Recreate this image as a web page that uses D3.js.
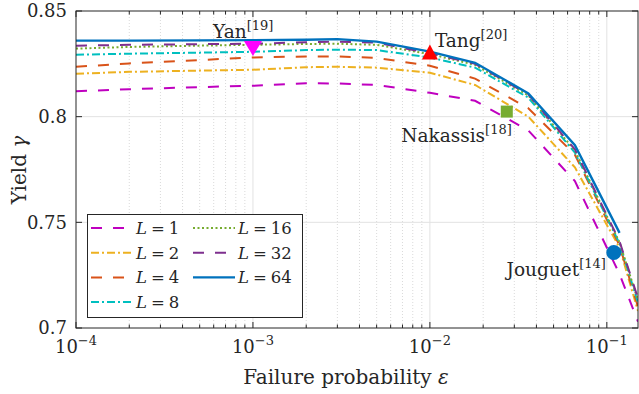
<!DOCTYPE html>
<html>
<head>
<meta charset="utf-8">
<script src="https://d3js.org/d3.v7.min.js"></script>
<style>
  body { margin: 0; background: #fff; }
  svg text { font-family: "DejaVu Serif", serif; fill: #262626; }
</style>
</head>
<body>
<div id="chart"></div>
<script>
// failure probability samples (shared by every curve)
var eps = [1e-4, 2e-4, 5e-4, 1e-3, 2e-3, 3e-3, 5e-3, 1e-2, 1.8e-2, 3.6e-2, 6.6e-2, 0.118, 0.15];

var yieldL1  = [0.8120, 0.8130, 0.8140, 0.8146, 0.8158, 0.8157, 0.8150, 0.8113, 0.8075, 0.7935, 0.7695, 0.7255, 0.7030];
var yieldL2  = [0.8203, 0.8212, 0.8218, 0.8222, 0.8234, 0.8236, 0.8232, 0.8208, 0.8150, 0.8000, 0.7760, 0.7380, 0.7080];
var yieldL4  = [0.8236, 0.8252, 0.8268, 0.8280, 0.8285, 0.8285, 0.8278, 0.8241, 0.8180, 0.8040, 0.7820, 0.7390, 0.7100];
var yieldL8  = [0.8293, 0.8298, 0.8303, 0.8307, 0.8315, 0.8317, 0.8315, 0.8280, 0.8232, 0.8090, 0.7830, 0.7400, 0.7120];
var yieldL16 = [0.8322, 0.8330, 0.8336, 0.8340, 0.8344, 0.8345, 0.8340, 0.8296, 0.8245, 0.8100, 0.7840, 0.7405, 0.7130];
var yieldL32 = [0.8336, 0.8340, 0.8343, 0.8345, 0.8352, 0.8355, 0.8350, 0.8300, 0.8250, 0.8105, 0.7845, 0.7410, 0.7140];
var yieldL64 = [0.8360, 0.8360, 0.8361, 0.8362, 0.8364, 0.8367, 0.8355, 0.8308, 0.8255, 0.8110, 0.7865, 0.7450, null];

var blockLengths = ["1", "2", "4", "8", "16", "32", "64"];

// reference results from the literature
var refNames  = ["Yan", "Tang", "Nakassis", "Jouguet"];
var refCites  = ["19", "20", "18", "14"];
var refEps    = [1e-3, 1e-2, 0.0272, 0.1095];
var refYield  = [0.8325, 0.8304, 0.8024, 0.7357];

var xTicks = [1e-4, 1e-3, 1e-2, 1e-1];
var xTickExp = ["\u22124", "\u22123", "\u22122", "\u22121"];
var yTicks = [0.7, 0.75, 0.8, 0.85];
var yTickLabels = ["0.7", "0.75", "0.8", "0.85"];

var width = 639, height = 394;
var pLeft = 76, pRight = 638, pTop = 11, pBottom = 328;

var svg = d3.select('#chart')
            .append('svg')
            .attr('width', width)
            .attr('height', height);

var x = d3.scaleLog().domain([1e-4, 0.15]).range([pLeft, pRight]);
var y = d3.scaleLinear().domain([0.7, 0.85]).range([pBottom, pTop]);

// minor x ticks (2..9 of each decade)
var minorX = [];
[1e-4, 1e-3, 1e-2, 1e-1].forEach(function(d) {
  for (var k = 2; k <= 9; k++) {
    if (d * k < 0.15) minorX.push(d * k);
  }
});

// grid
svg.append('g').selectAll('line')
  .data(minorX)
  .enter().append('line')
    .attr('x1', function(d) { return x(d); })
    .attr('x2', function(d) { return x(d); })
    .attr('y1', pTop).attr('y2', pBottom)
    .attr('stroke', '#d0d0d0')
    .attr('stroke-width', 0.8)
    .attr('stroke-dasharray', '1,2');

svg.append('g').selectAll('line')
  .data(xTicks.slice(1))
  .enter().append('line')
    .attr('x1', function(d) { return x(d); })
    .attr('x2', function(d) { return x(d); })
    .attr('y1', pTop).attr('y2', pBottom)
    .attr('stroke', '#e2e2e2')
    .attr('stroke-width', 1);

svg.append('g').selectAll('line')
  .data(yTicks.slice(1, 3))
  .enter().append('line')
    .attr('x1', pLeft).attr('x2', pRight)
    .attr('y1', function(d) { return y(d); })
    .attr('y2', function(d) { return y(d); })
    .attr('stroke', '#e2e2e2')
    .attr('stroke-width', 1);

// curves
var series = [
  { name: blockLengths[0], values: yieldL1,  color: '#bf00bf', dash: '11,11' },
  { name: blockLengths[1], values: yieldL2,  color: '#edb120', dash: '8,3,2,3' },
  { name: blockLengths[2], values: yieldL4,  color: '#d95319', dash: '11,11' },
  { name: blockLengths[3], values: yieldL8,  color: '#00bfbf', dash: '8,3,2,3' },
  { name: blockLengths[4], values: yieldL16, color: '#77ac30', dash: '2,2.5' },
  { name: blockLengths[5], values: yieldL32, color: '#7e2f8e', dash: '11,11' },
  { name: blockLengths[6], values: yieldL64, color: '#0072bd', dash: null }
];

svg.append('clipPath').attr('id', 'plotclip')
  .append('rect')
    .attr('x', pLeft).attr('y', pTop)
    .attr('width', pRight - pLeft).attr('height', pBottom - pTop);

var line = d3.line()
  .defined(function(d) { return d[1] != null; })
  .x(function(d) { return x(d[0]); })
  .y(function(d) { return y(d[1]); });

svg.append('g')
    .attr('clip-path', 'url(#plotclip)')
  .selectAll('path')
    .data(series)
  .enter().append('path')
    .attr('d', function(s) { return line(eps.map(function(e, i) { return [e, s.values[i]]; })); })
    .attr('fill', 'none')
    .attr('stroke', function(s) { return s.color; })
    .attr('stroke-width', function(s) { return s.dash ? 2 : 2.4; })
    .attr('stroke-dasharray', function(s) { return s.dash; });

// axes box and ticks (inside, on all four sides)
var axisColor = '#262626';
svg.append('rect')
  .attr('x', pLeft).attr('y', pTop)
  .attr('width', pRight - pLeft).attr('height', pBottom - pTop)
  .attr('fill', 'none')
  .attr('stroke', axisColor)
  .attr('stroke-width', 1);

var ticks = svg.append('g').attr('stroke', axisColor).attr('stroke-width', 1);
xTicks.forEach(function(d) {
  ticks.append('line').attr('x1', x(d)).attr('x2', x(d)).attr('y1', pBottom).attr('y2', pBottom - 6);
  ticks.append('line').attr('x1', x(d)).attr('x2', x(d)).attr('y1', pTop).attr('y2', pTop + 6);
});
minorX.forEach(function(d) {
  ticks.append('line').attr('x1', x(d)).attr('x2', x(d)).attr('y1', pBottom).attr('y2', pBottom - 3.5);
  ticks.append('line').attr('x1', x(d)).attr('x2', x(d)).attr('y1', pTop).attr('y2', pTop + 3.5);
});
yTicks.forEach(function(d) {
  ticks.append('line').attr('x1', pLeft).attr('x2', pLeft + 6).attr('y1', y(d)).attr('y2', y(d));
  ticks.append('line').attr('x1', pRight).attr('x2', pRight - 6).attr('y1', y(d)).attr('y2', y(d));
});

// tick labels
xTicks.forEach(function(d, i) {
  var t = svg.append('text')
    .attr('x', x(d))
    .attr('y', 353)
    .attr('text-anchor', 'middle')
    .style('font-size', '18px');
  t.append('tspan').text('10');
  t.append('tspan').attr('dy', -8).style('font-size', '13px').text(xTickExp[i]);
});

yTicks.forEach(function(d, i) {
  svg.append('text')
    .attr('x', 67)
    .attr('y', y(d))
    .attr('dy', '0.36em')
    .attr('text-anchor', 'end')
    .style('font-size', '18px')
    .text(yTickLabels[i]);
});

// axis labels
var xl = svg.append('text')
  .attr('x', 346).attr('y', 384)
  .attr('text-anchor', 'middle')
  .style('font-size', '20px');
xl.append('tspan').text('Failure probability ');
xl.append('tspan').style('font-style', 'italic').text('\u03b5');

var yl = svg.append('text')
  .attr('transform', 'translate(26,170)rotate(-90)')
  .attr('text-anchor', 'middle')
  .style('font-size', '20px');
yl.append('tspan').text('Yield ');
yl.append('tspan').style('font-style', 'italic').text('\u03b3');

// reference markers
var markerColors = ['#ff00ff', '#ff0000', '#77ac30', '#0072bd'];
var markerShapes = ['M-9,-7L9,-7L0,8Z', 'M-8,7L8,7L0,-8Z', 'M-6,-6L6,-6L6,6L-6,6Z', null];

refNames.forEach(function(n, i) {
  var px = x(refEps[i]), py = y(refYield[i]);
  if (markerShapes[i]) {
    svg.append('path')
      .attr('d', markerShapes[i])
      .attr('transform', 'translate(' + px + ',' + py + ')')
      .attr('fill', markerColors[i]);
  } else {
    svg.append('circle')
      .attr('cx', px).attr('cy', py).attr('r', 7.5)
      .attr('fill', markerColors[i]);
  }
});

// reference labels: [dx, dy, anchor] relative to marker
var labelOffsets = [[-40, -10, 'start'], [5, -5, 'start'], [5, 30, 'end'], [-8, 23, 'end']];
refNames.forEach(function(n, i) {
  var o = labelOffsets[i];
  var t = svg.append('text')
    .attr('x', x(refEps[i]) + o[0])
    .attr('y', y(refYield[i]) + o[1])
    .attr('text-anchor', o[2])
    .style('font-size', '18.5px');
  t.append('tspan').text(n);
  t.append('tspan').attr('dy', -8).style('font-size', '13px').text('[' + refCites[i] + ']');
});

// legend
var legend = svg.append('g');
legend.append('rect')
  .attr('x', 87.5).attr('y', 214.5)
  .attr('width', 215).attr('height', 103)
  .attr('fill', '#fff')
  .attr('stroke', axisColor)
  .attr('stroke-width', 1);

series.forEach(function(s, i) {
  var col = i < 4 ? 0 : 1;
  var row = i < 4 ? i : i - 4;
  var lx = 91 + col * 102, ly = 228 + row * 24.7;
  legend.append('line')
    .attr('x1', lx).attr('x2', lx + 42)
    .attr('y1', ly).attr('y2', ly)
    .attr('stroke', s.color)
    .attr('stroke-width', s.dash ? 2 : 2.4)
    .attr('stroke-dasharray', s.dash);
  var t = legend.append('text')
    .attr('x', lx + 45)
    .attr('y', ly + 6)
    .style('font-size', '16.5px');
  t.append('tspan').style('font-style', 'italic').text('L');
  t.append('tspan').attr('dx', 4).text('=');
  t.append('tspan').attr('dx', 4).text(s.name);
});
</script>
</body>
</html>
